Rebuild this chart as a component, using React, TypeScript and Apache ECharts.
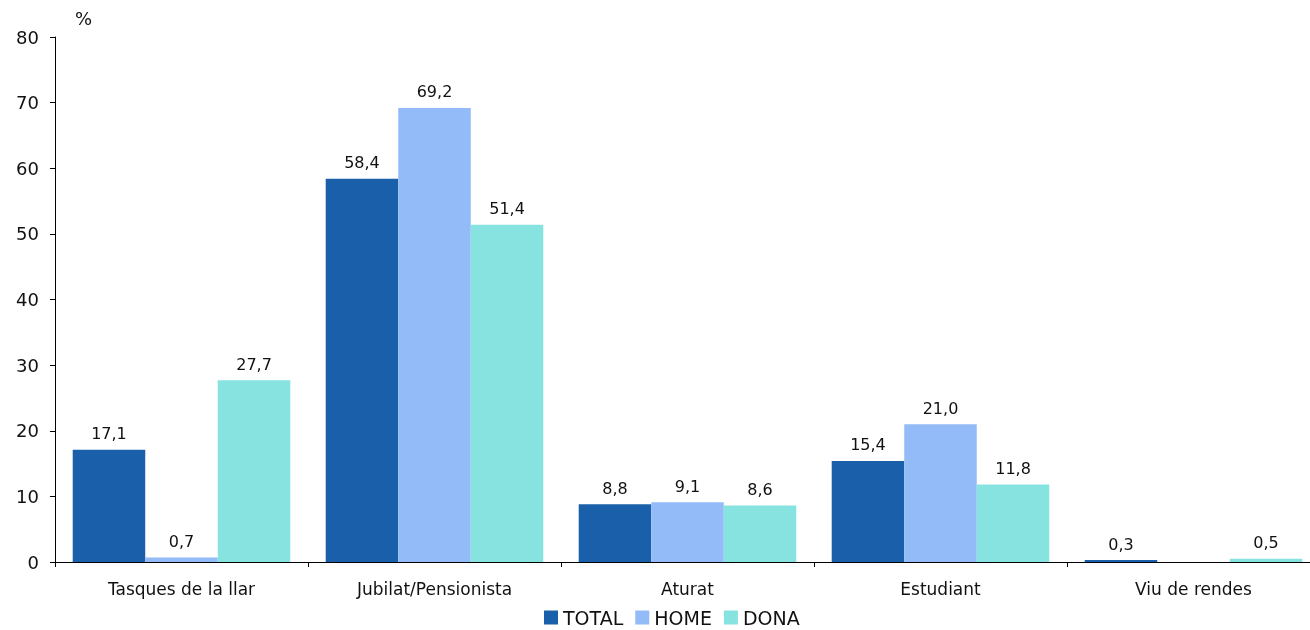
import React, { useEffect, useRef } from "react";
import * as echarts from "echarts";

const categories = ["Tasques de la llar", "Jubilat/Pensionista", "Aturat", "Estudiant", "Viu de rendes"];
const total = [17.1, 58.4, 8.8, 15.4, 0.3];
const home = [0.7, 69.2, 9.1, 21.0, null];
const dona = [27.7, 51.4, 8.6, 11.8, 0.5];
const yTicks = { min: 0, max: 80, interval: 10 };

const FONT = "DejaVu Sans";

export default function App() {
  const ref = useRef<HTMLDivElement>(null);
  useEffect(() => {
    if (!ref.current) return;
    const chart = echarts.init(ref.current, null, { renderer: "svg" });
    const label = {
      show: true,
      position: "top",
      distance: 8,
      fontFamily: FONT,
      fontSize: 16,
      color: "#111",
      formatter: (p: any) => (p.value == null ? "" : Number(p.value).toFixed(1).replace(".", ",")),
    };
    const mk = (name: string, data: any[], color: string) => ({
      name,
      type: "bar",
      data,
      itemStyle: { color },
      label,
      barGap: "0%",
      barCategoryGap: "14%",
    });
    chart.setOption({
      animation: false,
      textStyle: { fontFamily: FONT },
      grid: { left: 55, width: 1265, top: 37, bottom: 68, containLabel: false, outerBoundsMode: "none" },
      legend: {
        bottom: 3,
        left: 544,
        padding: 0,
        itemWidth: 14,
        itemHeight: 14,
        itemGap: 12,
        icon: "rect",
        textStyle: { fontFamily: FONT, fontSize: 19, color: "#111" },
        data: ["TOTAL", "HOME", "DONA"],
      },
      xAxis: {
        type: "category",
        data: categories,
        axisLine: { lineStyle: { color: "#000", width: 1 } },
        axisTick: { show: true, length: 5, lineStyle: { color: "#000" } },
        axisLabel: { fontFamily: FONT, fontSize: 17, color: "#111", margin: 18 },
      },
      yAxis: {
        type: "value",
        ...yTicks,
        name: "%",
        nameGap: 10,
        nameTextStyle: { fontFamily: FONT, fontSize: 18, color: "#111", align: "left", padding: [0, 0, 0, 20] },
        axisLine: { show: true, lineStyle: { color: "#000", width: 1 } },
        axisTick: { show: true, length: 5, lineStyle: { color: "#000" } },
        splitLine: { show: false },
        axisLabel: { fontFamily: FONT, fontSize: 18, color: "#111", margin: 16 },
      },
      series: [mk("TOTAL", total, "#1a5fa9"), mk("HOME", home, "#92bbf8"), mk("DONA", dona, "#86e3e0")],
    });
    return () => chart.dispose();
  }, []);
  return <div ref={ref} style={{ position: "fixed", left: 0, top: 0, width: 1310, height: 630 }} />;
}
